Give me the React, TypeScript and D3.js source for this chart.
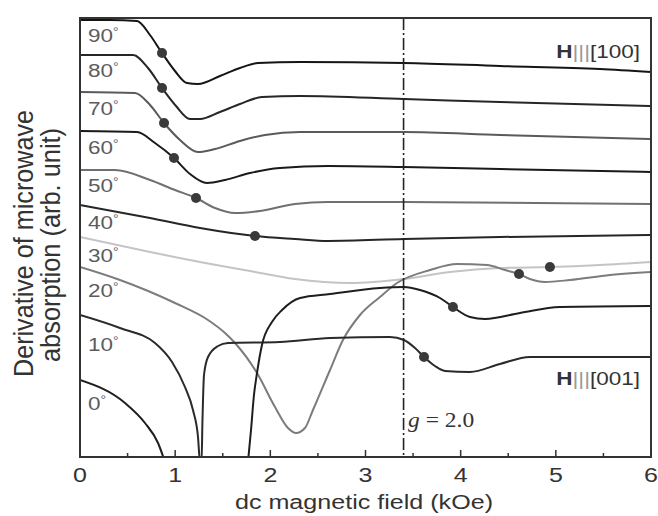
import React from 'react';
import * as d3 from 'd3';

type P = [number, number | null];

// field (kOe), derivative signal (arb. unit, offset per angle)
const curve90: P[] = [[0, 43.7], [0.315, 43.7], [0.6, 43.6], [0.735, 42.2], [0.862, 40.4], [0.998, 38.6], [1.124, 37.4], [1.24, 37.3], [1.471, 38.1], [1.681, 38.9], [1.87, 39.4], [2.312, 39.5], [3.404, 39.4], [4.413, 39.1], [5.464, 38.8], [6, 38.5]];
const curve80: P[] = [[0, 40.2], [0.557, 40.2], [0.715, 38.9], [0.862, 36.9], [1.009, 35.1], [1.156, 33.8], [1.261, 33.8], [1.471, 34.5], [1.681, 35.3], [1.912, 36.0], [2.312, 36.1], [3.404, 35.8], [4.413, 35.5], [6, 35.1]];
const curve70: P[] = [[0, 36.5], [0.578, 36.4], [0.736, 35.2], [0.883, 33.4], [1.051, 31.7], [1.24, 30.5], [1.419, 30.8], [1.681, 31.6], [1.944, 32.2], [2.312, 32.5], [3.404, 32.5], [4.413, 32.2], [6, 31.8]];
const curve60: P[] = [[0, 32.6], [0.599, 32.5], [0.788, 31.4], [0.988, 29.9], [1.156, 28.3], [1.334, 27.4], [1.524, 27.7], [1.786, 28.4], [2.101, 28.9], [2.606, 29.1], [3.404, 29.0], [4.413, 28.8], [6, 28.5]];
const curve50: P[] = [[0, 28.7], [0.368, 28.7], [0.736, 27.7], [0.998, 26.7], [1.219, 25.9], [1.419, 24.9], [1.629, 24.4], [1.891, 24.6], [2.259, 25.3], [2.606, 25.5], [3.404, 25.5], [6, 25.3]];
const curve40: P[] = [[0, 25.2], [0.736, 23.9], [1.261, 22.9], [1.839, 22.1], [2.259, 21.8], [2.606, 21.6], [3.404, 21.8], [4.413, 22.0], [6, 22.2]];
const curve30: P[] = [[0, 22.0], [0.736, 20.5], [1.261, 19.5], [1.786, 18.6], [2.259, 17.8], [2.837, 17.4], [3.404, 17.8], [3.888, 18.5], [4.413, 18.9], [4.938, 19.0], [5.464, 19.2], [6, 19.5]];
const curve20: P[] = [[0, 19.0], [0.42, 17.7], [0.998, 15.4], [1.345, 13.7], [1.524, 12.4], [1.629, 11.4], [1.86, 8.4], [2.049, 5.0], [2.186, 2.9], [2.27, 2.4], [2.364, 2.9], [2.448, 4.7], [2.627, 8.7], [2.763, 11.7], [2.942, 14.2], [3.152, 16.0], [3.331, 17.4], [3.678, 18.7], [3.961, 19.3], [4.277, 19.2], [4.466, 18.7], [4.613, 18.3], [4.728, 17.8], [4.886, 17.5], [5.149, 17.7], [5.569, 18.2], [6, 18.5]];
const curve10: P[] = [[0, 14.2], [0.42, 12.9], [0.788, 11.4], [0.967, 9.5], [1.103, 7.0], [1.187, 4.7], [1.24, 2.0], [1.261, -0.5], [1.277, -0.5], [1.287, 3.7], [1.303, 8.2], [1.345, 10.0], [1.45, 11.1], [1.555, 11.4], [2.101, 11.5], [2.627, 11.9], [3.257, 12.0], [3.404, 11.7], [3.52, 10.9], [3.615, 10.0], [3.73, 9.1], [3.835, 8.6], [4.098, 8.5], [4.413, 9.3], [4.728, 10.0], [6, 10.0]];
const curve0: P[] = [[0, 7.7], [0.473, 5.4], [0.683, 3.4], [0.82, 1.4], [0.893, -0.5], [1.3, null], [1.765, -0.5], [1.797, 2.7], [1.828, 6.2], [1.86, 8.4], [1.912, 11.2], [2.017, 13.5], [2.123, 14.7], [2.312, 15.9], [2.627, 16.3], [3.152, 16.9], [3.404, 17.0], [3.573, 16.7], [3.783, 15.9], [3.919, 15.0], [4.098, 14.0], [4.256, 13.8], [4.623, 14.4], [5.044, 15.0], [6, 15.1]];

const angles = ['90', '80', '70', '60', '50', '40', '30', '20', '10', '0'];
const labelLevels = [41.5, 38.0, 34.2, 30.3, 26.5, 22.8, 19.5, 16.0, 10.6, 4.7];
const markerX = [0.862, 0.862, 0.883, 0.988, 1.219, 1.839, 4.938, 4.613, 3.615, 3.919];
const markerY = [40.4, 36.9, 33.4, 29.9, 25.9, 22.1, 19.0, 18.3, 10.0, 15.0];

const xTicks = [0, 1, 2, 3, 4, 5, 6];
const xMinorTicks = [0.5, 1.5, 2.5, 3.5, 4.5, 5.5];
const gFactorField = 3.4;

const curves = [curve90, curve80, curve70, curve60, curve50, curve40, curve30, curve20, curve10, curve0];
const colors = ['#151515', '#262626', '#5a5a5a', '#1a1a1a', '#707070', '#262626', '#c4c4c4', '#7c7c7c', '#2a2a2a', '#1e1e1e'];

const L = 80, T = 18, R = 651, B = 457;
const SX = 1.25;

export default function App() {
  const x = d3.scaleLinear().domain([0, 6]).range([L, R]);
  const y = d3.scaleLinear().domain([0, 43.9]).range([B, T]);
  const line = d3
    .line<P>()
    .defined((d) => d[1] !== null)
    .x((d) => x(d[0]))
    .y((d) => y(d[1] as number))
    .curve(d3.curveMonotoneX);

  const sans = 'Liberation Sans, Arial, sans-serif';
  return (
    <svg width={658} height={516} style={{ position: 'absolute', left: 0, top: 0, background: '#fff' }}>
      <defs>
        <clipPath id="plot">
          <rect x={L} y={T} width={R - L} height={B - T} />
        </clipPath>
      </defs>
      <rect x={0} y={0} width={658} height={516} fill="#fff" />
      <g clipPath="url(#plot)">
        {curves.map((c, i) => (
          <path key={i} d={line(c) || ''} fill="none" stroke={colors[i]} strokeWidth={2} strokeLinejoin="round" />
        ))}
        <line x1={x(gFactorField)} x2={x(gFactorField)} y1={T} y2={B} stroke="#222" strokeWidth={1.6} strokeDasharray="12 3 2 3" />
        {markerX.map((mx, i) => (
          <circle key={i} cx={x(mx)} cy={y(markerY[i])} r={5} fill="#3a3a3a" />
        ))}
      </g>
      <rect x={L} y={T} width={R - L} height={B - T} fill="none" stroke="#333" strokeWidth={2} />
      {xTicks.map((t) => (
        <line key={'M' + t} x1={x(t)} x2={x(t)} y1={B} y2={B - 7} stroke="#333" strokeWidth={1.5} />
      ))}
      {xMinorTicks.map((t) => (
        <line key={'m' + t} x1={x(t)} x2={x(t)} y1={B} y2={B - 4} stroke="#333" strokeWidth={1.5} />
      ))}
      {xTicks.map((t) => (
        <text key={'l' + t} transform={`translate(${x(t)},482) scale(${SX},1)`} textAnchor="middle" fontFamily={sans} fontSize={20} fill="#333">
          {t}
        </text>
      ))}
      <text x={364} y={509} textAnchor="middle" fontFamily={sans} fontSize={20} fill="#333" textLength={258} lengthAdjust="spacingAndGlyphs">
        dc magnetic field (kOe)
      </text>
      <text transform={`translate(33,243.5) scale(1.12,1) rotate(-90)`} textAnchor="middle" fontFamily={sans} fontSize={24} fill="#333" textLength={267} lengthAdjust="spacingAndGlyphs">
        Derivative of microwave
      </text>
      <text transform={`translate(60,245) scale(1.12,1) rotate(-90)`} textAnchor="middle" fontFamily={sans} fontSize={24} fill="#333" textLength={234} lengthAdjust="spacingAndGlyphs">
        absorption (arb. unit)
      </text>
      {angles.map((a, i) => (
        <text key={'a' + a} transform={`translate(88,${y(labelLevels[i])}) scale(${SX},1)`} fontFamily={sans} fontSize={18} fill="#5c5c5c">
          {a}
          <tspan fontSize={11} dy={-7}>°</tspan>
        </text>
      ))}
      <text transform={`translate(640,58) scale(${SX},1)`} textAnchor="end" fontFamily={sans} fontSize={18} fill="#333">
        <tspan fontWeight="bold">H</tspan>
        <tspan fill="#999">|||</tspan>
        <tspan>[100]</tspan>
      </text>
      <text transform={`translate(640,385) scale(${SX},1)`} textAnchor="end" fontFamily={sans} fontSize={18} fill="#333">
        <tspan fontWeight="bold">H</tspan>
        <tspan fill="#999">|||</tspan>
        <tspan>[001]</tspan>
      </text>
      <text transform={`translate(408,427) scale(1.12,1)`} fontFamily="Liberation Serif, Times New Roman, serif" fontSize={21} fill="#333">
        <tspan fontStyle="italic">g</tspan> = 2.0
      </text>
    </svg>
  );
}
